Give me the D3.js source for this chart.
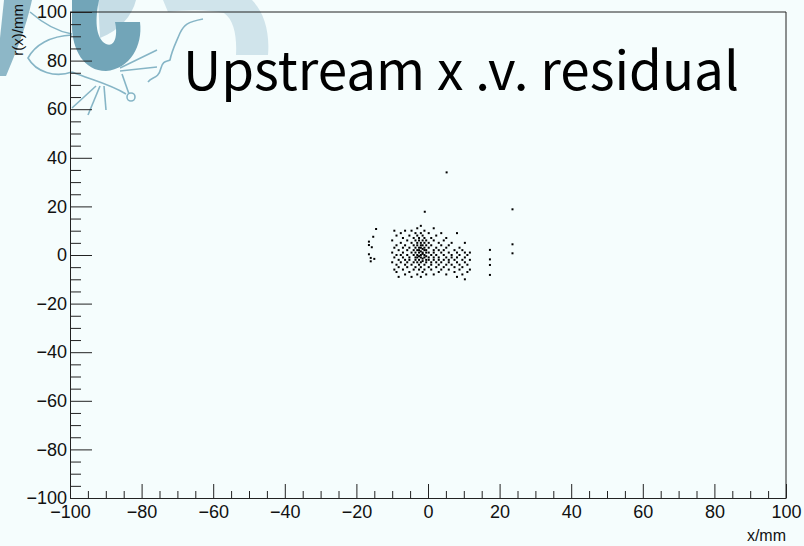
<!DOCTYPE html>
<html>
<head>
<meta charset="utf-8">
<script src="https://cdn.jsdelivr.net/npm/d3@7"></script>
<style>
  html, body { margin: 0; padding: 0; background: #f5fdfd; }
  svg { display: block; }
</style>
</head>
<body>
<div id="wrapper"></div>
<script>
// data (x/mm, r(x)/mm)
const title = "Upstream x .v. residual"
const xLabel = "x/mm"
const yLabel = "r(x)/mm"
const xMajorTicks = [-100, -80, -60, -40, -20, 0, 20, 40, 60, 80, 100]
const yMajorTicks = [-100, -80, -60, -40, -20, 0, 20, 40, 60, 80, 100]

// main blob, by column (x) with the y values seen in that column
const clusterColumns = [
  [-10.0, [6, 1, -3]],
  [-9.4, [10, 3, -1, -6]],
  [-8.8, [8, 4, 0, -4, -7]],
  [-8.2, [2, -2, -5, -9]],
  [-7.6, [9, 5, 0, -3]],
  [-7.0, [7, 3, 1, -1, -6]],
  [-6.4, [10, 4, -2, -4, -8]],
  [-5.8, [6, 2, 0, -3, -5]],
  [-5.2, [8, 3, -1, -2, -7]],
  [-4.6, [10, 5, 1, -4, -9]],
  [-4.0, [7, 4, 2, 0, -3, -6]],
  [-3.5, [9, 6, 3, 1, -1, -2, -5]],
  [-3.0, [11, 8, 5, 4, 2, 0, -1, -3, -8]],
  [-2.5, [7, 6, 3, 2, 1, -0.5, -2, -4, -6]],
  [-2.0, [12, 9, 5, 4, 3, 1.5, 0, -1, -3, -5, -9]],
  [-1.5, [8, 6, 4, 2.5, 1, 0.5, -1.5, -2.5, -7]],
  [-1.0, [10, 7, 5, 3, 2, 0, -1, -4, -6]],
  [-0.5, [6, 4, 2, 1, -0.5, -2, -3, -8]],
  [0.2, [9, 5, 3, 1, -1, -2, -5]],
  [0.9, [7, 4, 0, -3, -4, -6]],
  [1.6, [11, 6, 2, 1, -1, -2, -8]],
  [2.3, [8, 3, 0, -3, -5]],
  [3.0, [5, 2, -1, -2, -4, -7]],
  [3.7, [9, 4, 1, -3, -6]],
  [4.4, [6, 2, 0, -2, -5]],
  [5.1, [7, 3, -1, -4, -8]],
  [5.8, [4, 1, -2, -3, -6]],
  [6.6, [5, 0, -1, -4]],
  [7.4, [2, -2, -5, -7]],
  [8.1, [9, 1, -1, -3, -9]],
  [8.8, [3, 0, -4, -6]],
  [9.6, [2, -2, -5, -8]],
  [10.3, [5, 1, -1, -3, -10]],
  [11.0, [0, -4, -7]],
  [11.7, [1, -2, -6]]
]

const leftPoints = [
  [-14.5, 10.7], [-15.3, 7.5], [-16.5, 5.5], [-16.5, 4.1], [-15.7, 3.2],
  [-16.5, 0.3], [-16.0, -1.2], [-15.0, -1.6], [-16.0, -2.6]
]

const strayPoints = [
  [5.2, 34], [-0.9, 17.8], [23.6, 18.8], [23.6, 4.4], [23.6, 0.7],
  [17.3, 2.1], [17.3, -1.8], [17.3, -4.1], [17.3, -8.2]
]

const dataset = clusterColumns
  .flatMap(([x, ys]) => ys.map(y => [x, y]))
  .concat(leftPoints, strayPoints)

const xAccessor = d => d[0]
const yAccessor = d => d[1]

let dimensions = {
  width: 804,
  height: 546,
  margin: { top: 12, right: 18, bottom: 48, left: 70 },
}
dimensions.boundedWidth = dimensions.width - dimensions.margin.left - dimensions.margin.right
dimensions.boundedHeight = dimensions.height - dimensions.margin.top - dimensions.margin.bottom

const wrapper = d3.select("#wrapper")
  .append("svg")
    .attr("width", dimensions.width)
    .attr("height", dimensions.height)

wrapper.append("rect")
  .attr("width", dimensions.width)
  .attr("height", dimensions.height)
  .attr("fill", "#f5fdfd")

// faint logo watermark in the corner
const logo = wrapper.append("g")
logo.append("path")
  .attr("d", "M163,0 L252,0 C264,12 270,32 268,55 L236,55 C237,36 234,20 224,13 C205,9 185,10 168,12 Z")
  .attr("fill", "#d0e4eb")
logo.append("path")
  .attr("d", "M4,0 L32,0 C26,28 16,52 6,76 L-4,76 Z")
  .attr("fill", "#8db7c7")
logo.append("path")
  .attr("d", "M98,0 L136,0 C132,16 120,30 100,38 Z")
  .attr("fill", "#c6dde6")
logo.append("path")
  .attr("d", "M72,0 L99,0 C95,18 95,38 106,44 C115,48 118,35 115,22 L140,22 C143,46 130,69 106,71 C84,71 72,50 72,25 Z")
  .attr("fill", "#72a5b8")
logo.append("g")
  .attr("fill", "none")
  .attr("stroke", "#86b5c6")
  .attr("stroke-width", 1.6)
  .selectAll("path")
  .data([
    "M30,12 C45,25 60,32 72,34",
    "M72,35 C50,36 35,45 28,58 C36,72 55,78 72,72",
    "M72,72 C92,80 110,84 126,94",
    "M120,68 L157,50",
    "M120,71 L157,67",
    "M122,74 L129,94",
    "M100,86 L88,115",
    "M104,86 L106,110",
    "M96,86 L72,108",
    "M148,82 C152,76 158,80 161,68 C163,60 167,62 170,60 C172,50 175,45 180,33 C184,25 187,22 203,19"
  ])
  .join("path")
    .attr("d", d => d)
logo.append("circle")
  .attr("cx", 131).attr("cy", 97).attr("r", 4)
  .attr("fill", "none").attr("stroke", "#86b5c6").attr("stroke-width", 1.6)

const bounds = wrapper.append("g")
  .style("transform", `translate(${dimensions.margin.left}px, ${dimensions.margin.top}px)`)

const xScale = d3.scaleLinear()
  .domain([-100, 100])
  .range([0, dimensions.boundedWidth])

const yScale = d3.scaleLinear()
  .domain([-100, 100])
  .range([dimensions.boundedHeight, 0])

// title
wrapper.append("text")
  .attr("x", 183)
  .attr("y", 90)
  .attr("textLength", 556)
  .attr("lengthAdjust", "spacingAndGlyphs")
  .style("font-family", "'Noto Sans CJK JP', 'Noto Sans', sans-serif")
  .style("font-size", "53px")
  .style("fill", "#000")
  .text(title)

// points
bounds.append("g")
  .selectAll("rect")
  .data(dataset)
  .join("rect")
    .attr("x", d => xScale(xAccessor(d)) - 1)
    .attr("y", d => yScale(yAccessor(d)) - 1)
    .attr("width", 2)
    .attr("height", 2)
    .attr("fill", "#000")

// frame
bounds.append("path")
  .attr("d", `M0,0 H${dimensions.boundedWidth} V${dimensions.boundedHeight}`)
  .attr("fill", "none")
  .attr("stroke", "#222")
  .attr("stroke-width", 1)

const minorX = d3.range(-100, 101, 5).filter(v => v % 20 !== 0)
const minorY = d3.range(-100, 101, 5).filter(v => v % 20 !== 0)

const fontStyle = sel => sel.selectAll("text")
  .style("font-family", "'Liberation Sans', Arial, sans-serif")
  .style("font-size", "18px")
  .style("fill", "#111")

// x axis
const xAxis = bounds.append("g")
  .style("transform", `translateY(${dimensions.boundedHeight}px)`)
  .call(d3.axisBottom(xScale).tickValues(xMajorTicks).tickSize(-14).tickSizeOuter(0).tickPadding(7).tickFormat(d3.format("d")))
  .call(fontStyle)
bounds.append("g")
  .style("transform", `translateY(${dimensions.boundedHeight}px)`)
  .call(d3.axisBottom(xScale).tickValues(minorX).tickSize(-7).tickSizeOuter(0).tickFormat(""))
  .call(g => g.select(".domain").remove())

// y axis
const yAxis = bounds.append("g")
  .call(d3.axisLeft(yScale).tickValues(yMajorTicks).tickSize(-22).tickSizeOuter(0).tickPadding(3).tickFormat(d3.format("d")))
  .call(fontStyle)
bounds.append("g")
  .call(d3.axisLeft(yScale).tickValues(minorY).tickSize(-11).tickSizeOuter(0).tickFormat(""))
  .call(g => g.select(".domain").remove())

bounds.selectAll(".domain, .tick line").attr("stroke", "#222")

// axis titles
wrapper.append("text")
  .attr("x", dimensions.width - dimensions.margin.right)
  .attr("y", 541)
  .attr("text-anchor", "end")
  .style("font-family", "'Liberation Sans', Arial, sans-serif")
  .style("font-size", "16px")
  .style("fill", "#111")
  .text(xLabel)

wrapper.append("text")
  .attr("transform", "translate(23, 4) rotate(-90)")
  .attr("text-anchor", "end")
  .style("font-family", "'Liberation Sans', Arial, sans-serif")
  .style("font-size", "15px")
  .style("fill", "#111")
  .text(yLabel)
</script>
</body>
</html>
